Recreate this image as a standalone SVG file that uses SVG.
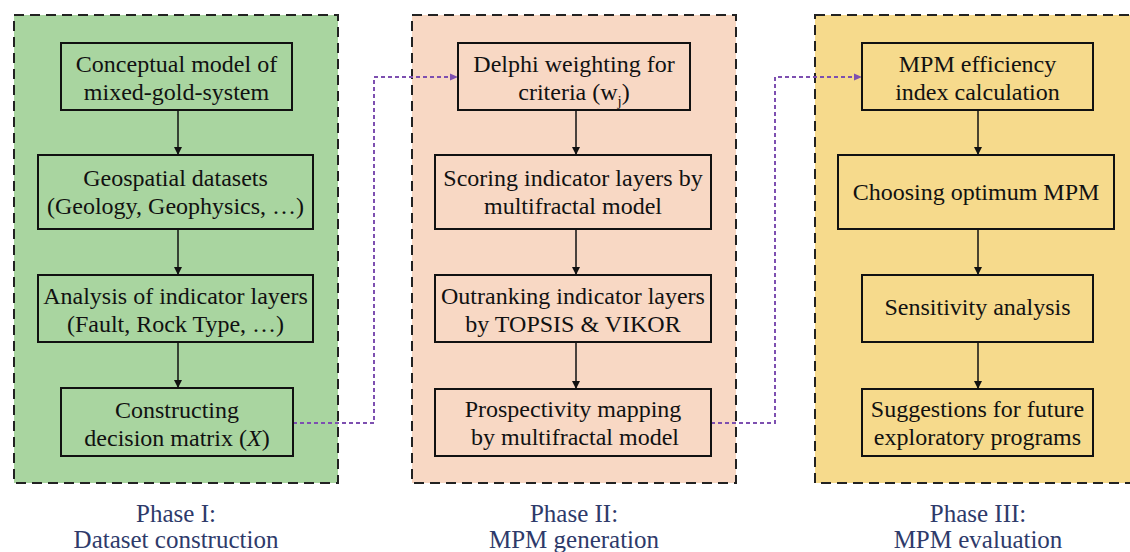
<svg xmlns="http://www.w3.org/2000/svg" width="1130" height="552" viewBox="0 0 1130 552">
<defs>
<style>
.phase{stroke:#222;stroke-width:2;stroke-dasharray:10,6}
.box rect{stroke:#111;stroke-width:2}
.t{font-family:'Times New Roman',Tinos,'Liberation Serif','Nimbus Roman',Times,serif;font-size:24px;fill:#111;text-anchor:middle}
.lbl{font-family:'Times New Roman',Tinos,'Liberation Serif','Nimbus Roman',Times,serif;font-size:25px;fill:#2e3a6a;text-anchor:middle}
.flow{stroke:#111;stroke-width:1.5;fill:none}
.link{stroke:#7d4fb0;stroke-width:2;stroke-dasharray:4,3;fill:none}
</style>
<marker id="ah" markerWidth="10" markerHeight="10" refX="9" refY="5" orient="auto" markerUnits="userSpaceOnUse">
<path d="M1,1 L9,5 L1,9 Z" fill="#111"/>
</marker>
<marker id="ahp" markerWidth="10" markerHeight="10" refX="9" refY="5" orient="auto" markerUnits="userSpaceOnUse">
<path d="M1,1.5 L9,5 L1,8.5 Z" fill="#7d4fb0"/>
</marker>
</defs>
<rect width="1130" height="552" fill="#ffffff"/>

<g id="phase1">
<rect class="phase" x="14" y="15" width="324" height="468" fill="#a9d5a0"/>
<text class="lbl" x="176" y="522">Phase I:</text>
<text class="lbl" x="176" y="548">Dataset construction</text>
</g>
<g id="phase2">
<rect class="phase" x="412" y="15" width="324" height="468" fill="#f8d8c4"/>
<text class="lbl" x="574" y="522">Phase II:</text>
<text class="lbl" x="574" y="548">MPM generation</text>
</g>
<g id="phase3">
<rect class="phase" x="815" y="15" width="326" height="468" fill="#f6da8c"/>
<text class="lbl" x="978" y="522">Phase III:</text>
<text class="lbl" x="978" y="548">MPM evaluation</text>
</g>

<g id="connectors">
<line class="flow" x1="178" y1="110" x2="178" y2="155" marker-end="url(#ah)"/>
<line class="flow" x1="178" y1="229" x2="178" y2="275" marker-end="url(#ah)"/>
<line class="flow" x1="178" y1="342" x2="178" y2="388" marker-end="url(#ah)"/>
<line class="flow" x1="576" y1="110" x2="576" y2="155" marker-end="url(#ah)"/>
<line class="flow" x1="576" y1="229" x2="576" y2="275" marker-end="url(#ah)"/>
<line class="flow" x1="576" y1="342" x2="576" y2="389" marker-end="url(#ah)"/>
<line class="flow" x1="978" y1="110" x2="978" y2="155" marker-end="url(#ah)"/>
<line class="flow" x1="978" y1="229" x2="978" y2="275" marker-end="url(#ah)"/>
<line class="flow" x1="978" y1="342" x2="978" y2="389" marker-end="url(#ah)"/>
<polyline class="link" points="293,423 374,423 374,77 458,77" marker-end="url(#ahp)"/>
<polyline class="link" points="711,423 775,423 775,77 862,77" marker-end="url(#ahp)"/>
</g>

<g id="n1" class="box">
<rect x="61" y="43" width="231" height="67" fill="#a9d5a0"/>
<text class="t" x="176.5" y="72">Conceptual model of</text>
<text class="t" x="176.5" y="100">mixed-gold-system</text>
</g>
<g id="n2" class="box">
<rect x="38" y="155" width="275" height="74" fill="#a9d5a0"/>
<text class="t" x="175.5" y="186">Geospatial datasets</text>
<text class="t" x="175.5" y="214">(Geology, Geophysics, …)</text>
</g>
<g id="n3" class="box">
<rect x="38" y="275" width="275" height="67" fill="#a9d5a0"/>
<text class="t" x="175.5" y="304">Analysis of indicator layers</text>
<text class="t" x="175.5" y="332">(Fault, Rock Type, …)</text>
</g>
<g id="n4" class="box">
<rect x="61" y="388" width="232" height="68" fill="#a9d5a0"/>
<text class="t" x="177" y="418">Constructing</text>
<text class="t" x="177" y="446">decision matrix (<tspan font-style="italic">X</tspan>)</text>
</g>

<g id="n5" class="box">
<rect x="458" y="43" width="232" height="67" fill="#f8d8c4"/>
<text class="t" x="574" y="72">Delphi weighting for</text>
<text class="t" x="574" y="100">criteria (w<tspan font-size="15" dy="6">j</tspan><tspan dy="-6">)</tspan></text>
</g>
<g id="n6" class="box">
<rect x="435" y="155" width="276" height="74" fill="#f8d8c4"/>
<text class="t" x="573" y="186">Scoring indicator layers by</text>
<text class="t" x="573" y="214">multifractal model</text>
</g>
<g id="n7" class="box">
<rect x="435" y="275" width="276" height="67" fill="#f8d8c4"/>
<text class="t" x="573" y="304">Outranking indicator layers</text>
<text class="t" x="573" y="332">by TOPSIS &amp; VIKOR</text>
</g>
<g id="n8" class="box">
<rect x="435" y="389" width="276" height="67" fill="#f8d8c4"/>
<text class="t" x="573" y="417">Prospectivity mapping</text>
<text class="t" x="575" y="445">by multifractal model</text>
</g>

<g id="n9" class="box">
<rect x="862" y="43" width="231" height="67" fill="#f6da8c"/>
<text class="t" x="977.5" y="72">MPM efficiency</text>
<text class="t" x="977.5" y="100">index calculation</text>
</g>
<g id="n10" class="box">
<rect x="838" y="155" width="276" height="74" fill="#f6da8c"/>
<text class="t" x="976" y="200">Choosing optimum MPM</text>
</g>
<g id="n11" class="box">
<rect x="862" y="275" width="231" height="67" fill="#f6da8c"/>
<text class="t" x="977.5" y="315">Sensitivity analysis</text>
</g>
<g id="n12" class="box">
<rect x="862" y="389" width="231" height="67" fill="#f6da8c"/>
<text class="t" x="977.5" y="417">Suggestions for future</text>
<text class="t" x="977.5" y="445">exploratory programs</text>
</g>
</svg>
